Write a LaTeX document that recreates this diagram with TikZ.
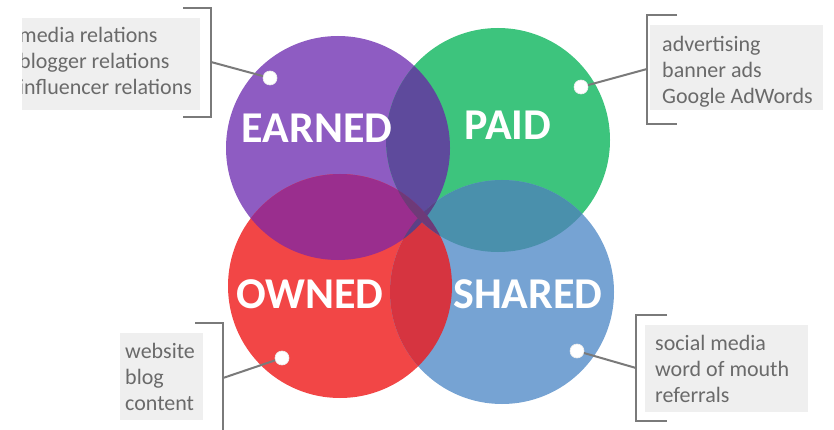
\documentclass[tikz,border=0pt]{standalone}
\usepackage{fontspec}
\setmainfont{Carlito}
\definecolor{cEarned}{HTML}{8E5CC2}
\definecolor{cPaid}{HTML}{3DC47D}
\definecolor{cOwned}{HTML}{F24646}
\definecolor{cShared}{HTML}{76A3D3}
\definecolor{cEP}{HTML}{5E4A9C}
\definecolor{cEO}{HTML}{9A2E8E}
\definecolor{cOS}{HTML}{D63440}
\definecolor{cPS}{HTML}{4A90AC}
\definecolor{cES}{HTML}{5B4086}
\definecolor{cPO}{HTML}{6E3A78}
\definecolor{ink}{HTML}{6A6A6A}
\definecolor{rule}{HTML}{7A7A7A}
\definecolor{panel}{HTML}{EFEFEF}
\begin{document}
\begin{tikzpicture}[x=1pt,y=-1pt,
  biglabel/.style={anchor=base,text=white,inner sep=0pt,
    font=\fontsize{44}{44}\selectfont\bfseries},
  item/.style={anchor=base west,text=ink,inner sep=0pt,
    font=\fontsize{22}{26}\selectfont},
  dot/.style={circle,fill=white,draw=white!85!gray,line width=0.6pt,
    minimum size=14pt,inner sep=0pt},
  bracket/.style={draw=rule,line width=2.4pt},
  conn/.style={draw=rule,line width=2pt},
  panelbox/.style={fill=panel}]
\useasboundingbox (0,0) rectangle (834,430);
\fill[white] (0,0) rectangle (834,430);

% circle centres
\def\R{112pt}
\coordinate (cE) at (338,148);
\coordinate (cP) at (498,140);
\coordinate (cO) at (340,286);
\coordinate (cS) at (502,292);

% base discs
\fill[cEarned] (cE) circle[radius=\R];
\fill[cPaid]   (cP) circle[radius=\R];
\fill[cOwned]  (cO) circle[radius=\R];
\fill[cShared] (cS) circle[radius=\R];

% pairwise overlaps
\begin{scope}\clip (cE) circle[radius=\R]; \fill[cEP] (cP) circle[radius=\R];\end{scope}
\begin{scope}\clip (cE) circle[radius=\R]; \fill[cEO] (cO) circle[radius=\R];\end{scope}
\begin{scope}\clip (cO) circle[radius=\R]; \fill[cOS] (cS) circle[radius=\R];\end{scope}
\begin{scope}\clip (cP) circle[radius=\R]; \fill[cPS] (cS) circle[radius=\R];\end{scope}
\begin{scope}\clip (cE) circle[radius=\R]; \fill[cES] (cS) circle[radius=\R];\end{scope}
\begin{scope}\clip (cP) circle[radius=\R]; \fill[cPO] (cO) circle[radius=\R];\end{scope}

% circle titles
\node[biglabel] (tE) at (317,143) {EARNED};
\node[biglabel] (tP) at (508,140) {PAID};
\node[biglabel] (tO) at (310,308) {OWNED};
\node[biglabel] (tS) at (528,308) {SHARED};

% markers on the circles
\node[dot] (dE) at (270,78) {};
\node[dot] (dP) at (581,87) {};
\node[dot] (dO) at (282,358) {};
\node[dot] (dS) at (577,351) {};

% ---- earned panel (top left)
\fill[panelbox] (22,18) rectangle (200,110);
\begin{scope}
  \clip (22,0) rectangle (210,130);
  \node[item] (lE1) at (19,43) {media relations};
  \node[item] (lE2) at (19,69) {blogger relations};
  \node[item] (lE3) at (19,95) {influencer relations};
\end{scope}
\draw[bracket] (183,8) -- (211,8) -- (211,117) -- (183,117);
\coordinate (jE) at (211,62);
\draw[conn] (dE) -- (jE);

% ---- paid panel (top right)
\fill[panelbox] (650,25) rectangle (823,110);
\node[item] (lP1) at (662,52) {advertising};
\node[item] (lP2) at (662,78) {banner ads};
\node[item] (lP3) at (662,104) {Google AdWords};
\draw[bracket] (677,15) -- (647,15) -- (647,124) -- (677,124);
\coordinate (jP) at (647,69);
\draw[conn] (dP) -- (jP);

% ---- owned panel (bottom left)
\fill[panelbox] (120,333) rectangle (203,420);
\node[item] (lO1) at (125,358) {website};
\node[item] (lO2) at (125,384) {blog};
\node[item] (lO3) at (125,410) {content};
\draw[bracket] (195,323) -- (223,323) -- (223,432);
\coordinate (jO) at (223,378);
\draw[conn] (dO) -- (jO);

% ---- shared panel (bottom right)
\fill[panelbox] (645,325) rectangle (808,412);
\node[item] (lS1) at (655,350) {social media};
\node[item] (lS2) at (655,376) {word of mouth};
\node[item] (lS3) at (655,402) {referrals};
\draw[bracket] (667,315) -- (636,315) -- (636,421) -- (667,421);
\coordinate (jS) at (636,368);
\draw[conn] (dS) -- (jS);
\end{tikzpicture}
\end{document}
